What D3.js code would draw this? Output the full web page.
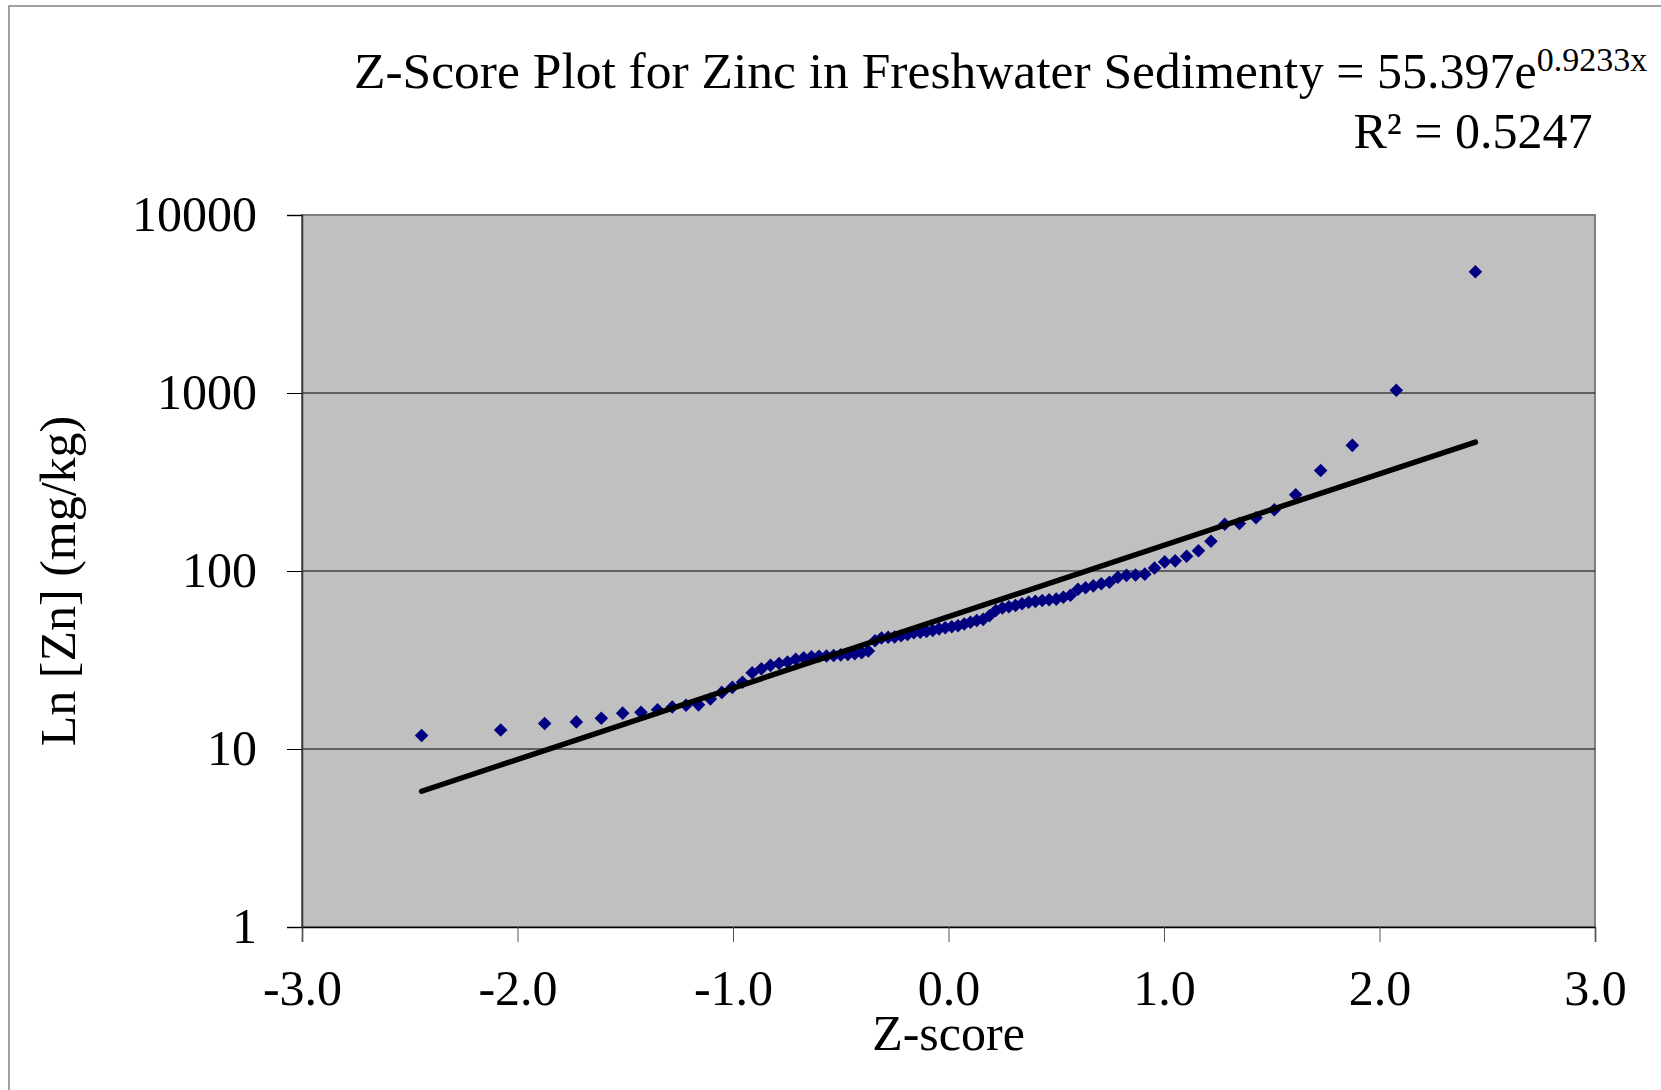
<!DOCTYPE html>
<html>
<head>
<meta charset="utf-8">
<script src="https://cdn.jsdelivr.net/npm/d3@7/dist/d3.min.js"></script>
<style>
  body { margin: 0; background: #ffffff; }
  text { font-family: "Liberation Serif", "Times New Roman", serif; fill: #000; }
</style>
</head>
<body>
<div id="chart"></div>
<script>
// z-scores (normal scores) of the 86 ranked samples
var zScores = [
  -2.445, -2.078, -1.874, -1.727, -1.611, -1.512, -1.427, -1.350, -1.282, -1.218,
  -1.160, -1.105, -1.052, -1.003, -0.956, -0.911, -0.868, -0.826, -0.786, -0.747,
  -0.709, -0.672, -0.636, -0.601, -0.566, -0.533, -0.500, -0.467, -0.435, -0.403,
  -0.372, -0.341, -0.311, -0.280, -0.250, -0.220, -0.190, -0.161, -0.131, -0.102,
  -0.073, -0.044, -0.015, 0.015, 0.044, 0.073, 0.102, 0.131, 0.161, 0.190,
  0.220, 0.250, 0.280, 0.311, 0.341, 0.372, 0.403, 0.435, 0.467, 0.500,
  0.533, 0.566, 0.601, 0.636, 0.672, 0.709, 0.747, 0.786, 0.826, 0.868,
  0.911, 0.956, 1.003, 1.052, 1.105, 1.160, 1.218, 1.282, 1.350, 1.427,
  1.512, 1.611, 1.727, 1.874, 2.078, 2.445
];
// zinc concentration (mg/kg), same order
var zinc = [
  11.9, 12.8, 13.9, 14.2, 14.9, 15.9, 16.1, 16.6, 17.2, 17.6,
  17.7, 19.1, 20.8, 22.2, 23.7, 26.8, 28.2, 29.5, 30.2, 30.8,
  31.9, 32.5, 33.0, 33.2, 33.3, 33.5, 33.8, 34.0, 34.3, 34.7,
  35.5, 40.6, 42.0, 42.4, 42.6, 43.3, 44.0, 45.0, 45.3, 45.8,
  46.4, 47.3, 48.0, 48.6, 49.3, 50.4, 51.5, 52.7, 53.5, 56.0,
  60.0, 62.0, 63.0, 64.0, 65.4, 66.7, 67.5, 68.2, 69.0, 69.5,
  71.2, 73.0, 79.0, 80.5, 82.5, 84.7, 86.5, 92.3, 94.5, 95.0,
  96.0, 104, 112.5, 114, 121, 130, 147, 183, 185, 199,
  221, 268, 367, 508, 1037, 4800
];
// exponential trendline end points
var trendX = [-2.445, 2.445];
var trendY = [5.79, 530];

var xTicks = [-3, -2, -1, 0, 1, 2, 3];
var yTicks = [1, 10, 100, 1000, 10000];
var gridValues = [10, 100, 1000];

var titleText = "Z-Score Plot for Zinc in Freshwater Sediment";
var eqText = "y = 55.397e";
var eqExp = "0.9233x";
var r2Text = "R\u00B2 = 0.5247";
var xTitle = "Z-score";
var yTitle = "Ln [Zn] (mg/kg)";

var W = 1661, H = 1090;
var plot = {left: 302, right: 1595, top: 215, bottom: 927};

var svg = d3.select("#chart").append("svg")
    .attr("width", W)
    .attr("height", H);

// outer chart border
svg.append("rect")
    .attr("x", 9).attr("y", 6)
    .attr("width", W + 50).attr("height", H + 50)
    .attr("fill", "none")
    .attr("stroke", "#808080")
    .attr("stroke-width", 1.5);

var x = d3.scaleLinear().domain([-3, 3]).range([plot.left, plot.right]);
var y = d3.scaleLog().domain([1, 10000]).range([plot.bottom, plot.top]);

// plot area
svg.append("rect")
    .attr("x", plot.left).attr("y", plot.top)
    .attr("width", plot.right - plot.left)
    .attr("height", plot.bottom - plot.top)
    .attr("fill", "#c0c0c0")
    .attr("stroke", "#808080")
    .attr("stroke-width", 2);

svg.selectAll(".grid")
    .data(gridValues)
    .enter().append("line")
    .attr("class", "grid")
    .attr("x1", plot.left).attr("x2", plot.right)
    .attr("y1", function (d) { return y(d); })
    .attr("y2", function (d) { return y(d); })
    .attr("stroke", "#000")
    .attr("stroke-width", 1);

// axes
var yAxis = svg.append("g")
    .attr("transform", "translate(" + plot.left + ",0)")
    .call(d3.axisLeft(y).tickValues(yTicks).tickSize(15).tickPadding(30)
        .tickFormat(function (d) { return String(d); }));
yAxis.select(".domain").attr("stroke", "#333").attr("stroke-width", 1.5);
yAxis.selectAll(".tick line").attr("stroke", "#000").attr("stroke-width", 1);
yAxis.selectAll("text")
    .attr("font-family", "Liberation Serif, Times New Roman, serif")
    .attr("font-size", 50)
    .attr("dy", "0.31em");

var xAxis = svg.append("g")
    .attr("transform", "translate(0," + plot.bottom + ")")
    .call(d3.axisBottom(x).tickValues(xTicks).tickSize(15).tickPadding(27)
        .tickFormat(function (d) { return d.toFixed(1); }));
xAxis.select(".domain").attr("stroke", "#000").attr("stroke-width", 1.5);
xAxis.selectAll(".tick line").attr("stroke", "#555").attr("stroke-width", 1);
xAxis.selectAll("text")
    .attr("font-family", "Liberation Serif, Times New Roman, serif")
    .attr("font-size", 50);

// data points (diamonds)
var pts = zScores.map(function (z, i) { return {z: z, v: zinc[i]}; });
var diamond = d3.symbol().type(d3.symbolSquare).size(92);
svg.selectAll(".pt")
    .data(pts)
    .enter().append("path")
    .attr("class", "pt")
    .attr("d", diamond)
    .attr("transform", function (d) {
        return "translate(" + x(d.z) + "," + y(d.v) + ") rotate(45)";
    })
    .attr("fill", "#000080");

// trendline
var trend = trendX.map(function (t, i) { return {z: t, v: trendY[i]}; });
var line = d3.line()
    .x(function (d) { return x(d.z); })
    .y(function (d) { return y(d.v); });
svg.append("path")
    .datum(trend)
    .attr("d", line)
    .attr("fill", "none")
    .attr("stroke", "#000")
    .attr("stroke-width", 5.5)
    .attr("stroke-linecap", "round");

// title and trendline label
svg.append("text")
    .attr("x", 354).attr("y", 88)
    .attr("font-size", 51.5)
    .text(titleText);

var eq = svg.append("text")
    .attr("x", 1473).attr("y", 88)
    .attr("text-anchor", "middle")
    .attr("font-size", 50);
eq.append("tspan").text(eqText);
eq.append("tspan").attr("dy", -17).attr("font-size", 34).text(eqExp);

svg.append("text")
    .attr("x", 1473).attr("y", 148)
    .attr("text-anchor", "middle")
    .attr("font-size", 50)
    .text(r2Text);

// axis titles
svg.append("text")
    .attr("x", (plot.left + plot.right) / 2).attr("y", 1050)
    .attr("text-anchor", "middle")
    .attr("font-size", 50)
    .text(xTitle);

svg.append("text")
    .attr("transform", "translate(75," + 581 + ") rotate(-90)")
    .attr("text-anchor", "middle")
    .attr("font-size", 50)
    .text(yTitle);
</script>
</body>
</html>
